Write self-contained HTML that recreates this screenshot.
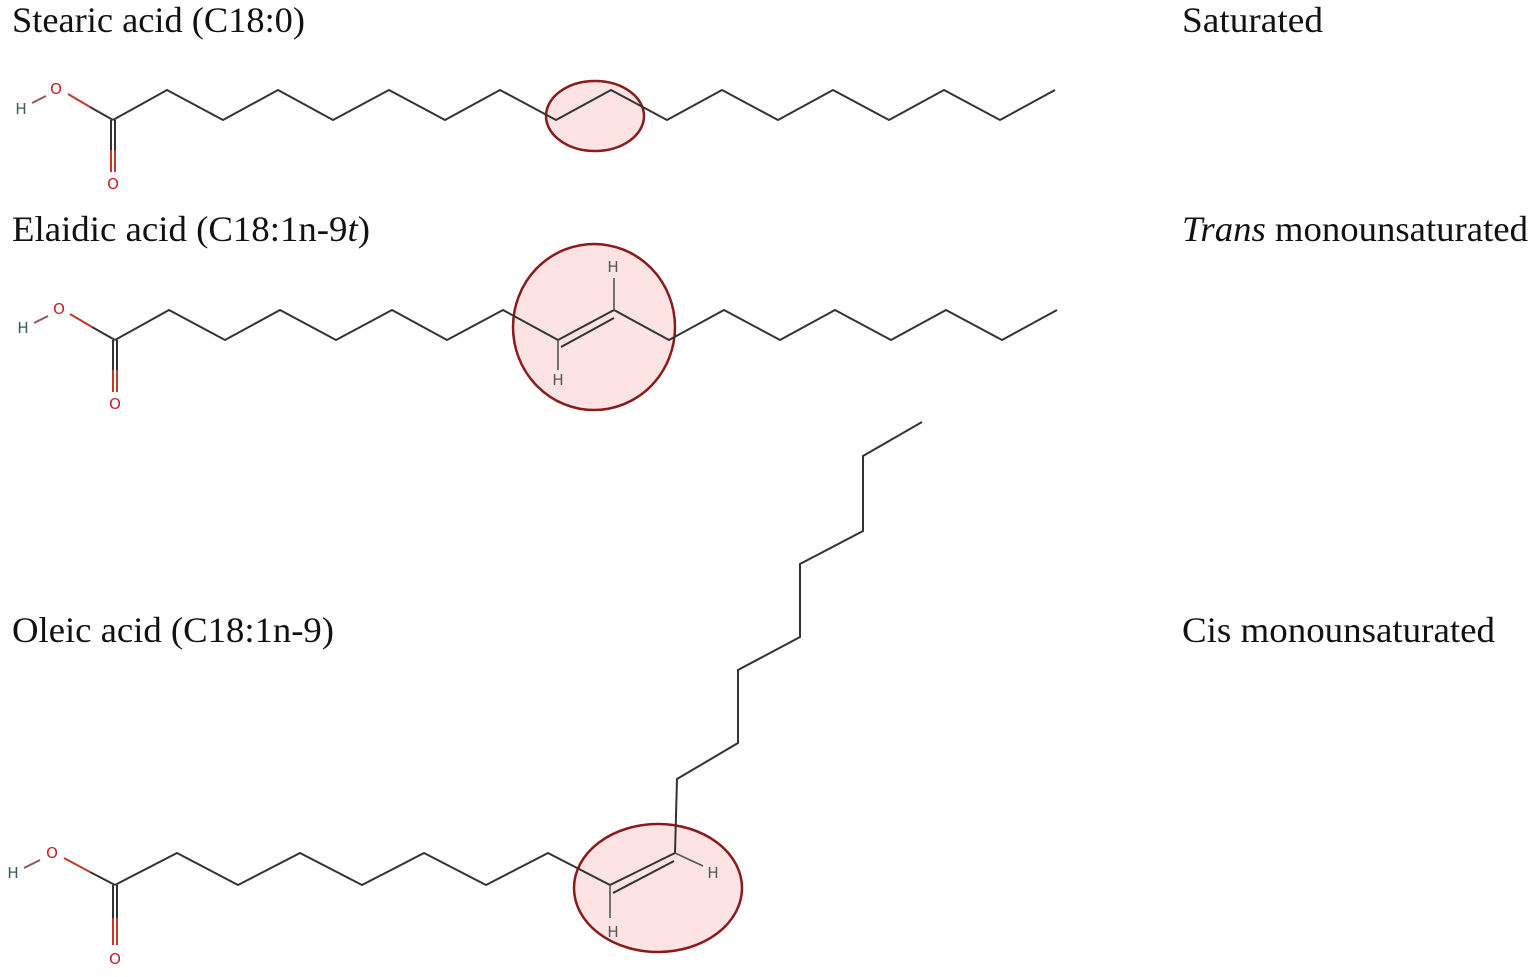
<!DOCTYPE html>
<html><head><meta charset="utf-8"><style>
html,body{margin:0;padding:0;background:#fff;}
svg{display:block;}
.t{font-family:"Liberation Serif",serif;font-size:36px;fill:#111;}
.a{font-family:"DejaVu Sans","Liberation Sans",sans-serif;font-size:15px;text-anchor:middle;}
.ch{fill:none;stroke:#333;stroke-width:2;stroke-linejoin:miter;}
</style></head><body>
<svg width="1536" height="977" viewBox="0 0 1536 977" xmlns="http://www.w3.org/2000/svg">
<text class="t" x="12" y="32" textLength="293" lengthAdjust="spacingAndGlyphs">Stearic acid (C18:0)</text>
<text class="t" x="1182" y="32" textLength="141" lengthAdjust="spacingAndGlyphs">Saturated</text>
<text class="t" x="12" y="241" textLength="358" lengthAdjust="spacingAndGlyphs">Elaidic acid (C18:1n-9<tspan font-style="italic">t</tspan>)</text>
<text class="t" x="1182" y="241" textLength="346" lengthAdjust="spacingAndGlyphs"><tspan font-style="italic">Trans</tspan> monounsaturated</text>
<text class="t" x="12" y="642" textLength="322" lengthAdjust="spacingAndGlyphs">Oleic acid (C18:1n-9)</text>
<text class="t" x="1182" y="642" textLength="313" lengthAdjust="spacingAndGlyphs">Cis monounsaturated</text>

<ellipse cx="595" cy="116" rx="49" ry="35" fill="#fde3e4" stroke="#8b1a1a" stroke-width="2.5"/>
<ellipse cx="594" cy="327" rx="81" ry="83" fill="#fde3e4" stroke="#8b1a1a" stroke-width="2.5"/>
<ellipse cx="658" cy="888" rx="84" ry="64" fill="#fde3e4" stroke="#8b1a1a" stroke-width="2.5"/>

<polyline class="ch" points="113,120 167,90 223,120 278,90 333,120 389,90 445,120 500,90 556,120 611,90 667,120 722,90 778,120 833,90 889,120 944,90 1000,120 1055,90"/>
<line x1="68" y1="94" x2="90" y2="107" stroke="#c0392b" stroke-width="2"/>
<line x1="90" y1="107" x2="113" y2="120" stroke="#333" stroke-width="2"/>
<line x1="32" y1="103" x2="46" y2="96" stroke="#8a5a5a" stroke-width="2"/>
<line x1="111" y1="120" x2="111" y2="150" stroke="#333" stroke-width="2"/>
<line x1="115" y1="120" x2="115" y2="150" stroke="#333" stroke-width="2"/>
<line x1="111" y1="150" x2="111" y2="172" stroke="#c0392b" stroke-width="2"/>
<line x1="115" y1="150" x2="115" y2="172" stroke="#c0392b" stroke-width="2"/>
<text class="a" x="56" y="94" fill="#c0202a">O</text>
<text class="a" x="21" y="114" fill="#3a5a5a">H</text>
<text class="a" x="113" y="189" fill="#c0202a">O</text>

<polyline class="ch" points="115,340 169,310 225,340 280,310 336,340 392,310 447,340 503,310 558,340 614,310 669,340 724,310 780,340 835,310 891,340 946,310 1002,340 1057,310"/>
<line x1="561" y1="347" x2="614" y2="318" stroke="#333" stroke-width="2"/>
<line x1="558" y1="340" x2="558" y2="370" stroke="#555" stroke-width="1.6"/>
<line x1="614" y1="310" x2="614" y2="278" stroke="#555" stroke-width="1.6"/>
<text class="a" x="558" y="385" fill="#555">H</text>
<text class="a" x="613" y="272" fill="#555">H</text>
<line x1="70" y1="314" x2="92" y2="327" stroke="#c0392b" stroke-width="2"/>
<line x1="92" y1="327" x2="115" y2="340" stroke="#333" stroke-width="2"/>
<line x1="34" y1="323" x2="48" y2="316" stroke="#8a5a5a" stroke-width="2"/>
<line x1="113" y1="340" x2="113" y2="370" stroke="#333" stroke-width="2"/>
<line x1="117" y1="340" x2="117" y2="370" stroke="#333" stroke-width="2"/>
<line x1="113" y1="370" x2="113" y2="392" stroke="#c0392b" stroke-width="2"/>
<line x1="117" y1="370" x2="117" y2="392" stroke="#c0392b" stroke-width="2"/>
<text class="a" x="59" y="314" fill="#c0202a">O</text>
<text class="a" x="23" y="333" fill="#3a5a5a">H</text>
<text class="a" x="115" y="409" fill="#c0202a">O</text>

<polyline class="ch" points="115,885 177,853 238,885 300,853 362,885 424,853 486,885 548,853 610,885 675,853 677,779 738,743 738,670 800,637 800,564 863,531 863,456 922,422"/>
<line x1="613" y1="893" x2="674" y2="861" stroke="#333" stroke-width="2"/>
<line x1="610" y1="885" x2="610" y2="918" stroke="#555" stroke-width="1.6"/>
<line x1="675" y1="853" x2="703" y2="866" stroke="#555" stroke-width="1.6"/>
<text class="a" x="613" y="937" fill="#555">H</text>
<text class="a" x="713" y="878" fill="#555">H</text>
<line x1="64" y1="858" x2="90" y2="872" stroke="#c0392b" stroke-width="2"/>
<line x1="90" y1="872" x2="115" y2="885" stroke="#333" stroke-width="2"/>
<line x1="24" y1="868" x2="40" y2="860" stroke="#8a5a5a" stroke-width="2"/>
<line x1="113" y1="885" x2="113" y2="918" stroke="#333" stroke-width="2"/>
<line x1="117" y1="885" x2="117" y2="918" stroke="#333" stroke-width="2"/>
<line x1="113" y1="918" x2="113" y2="945" stroke="#c0392b" stroke-width="2"/>
<line x1="117" y1="918" x2="117" y2="945" stroke="#c0392b" stroke-width="2"/>
<text class="a" x="52" y="858" fill="#c0202a">O</text>
<text class="a" x="13" y="878" fill="#3a5a5a">H</text>
<text class="a" x="115" y="964" fill="#c0202a">O</text>
</svg>
</body></html>
